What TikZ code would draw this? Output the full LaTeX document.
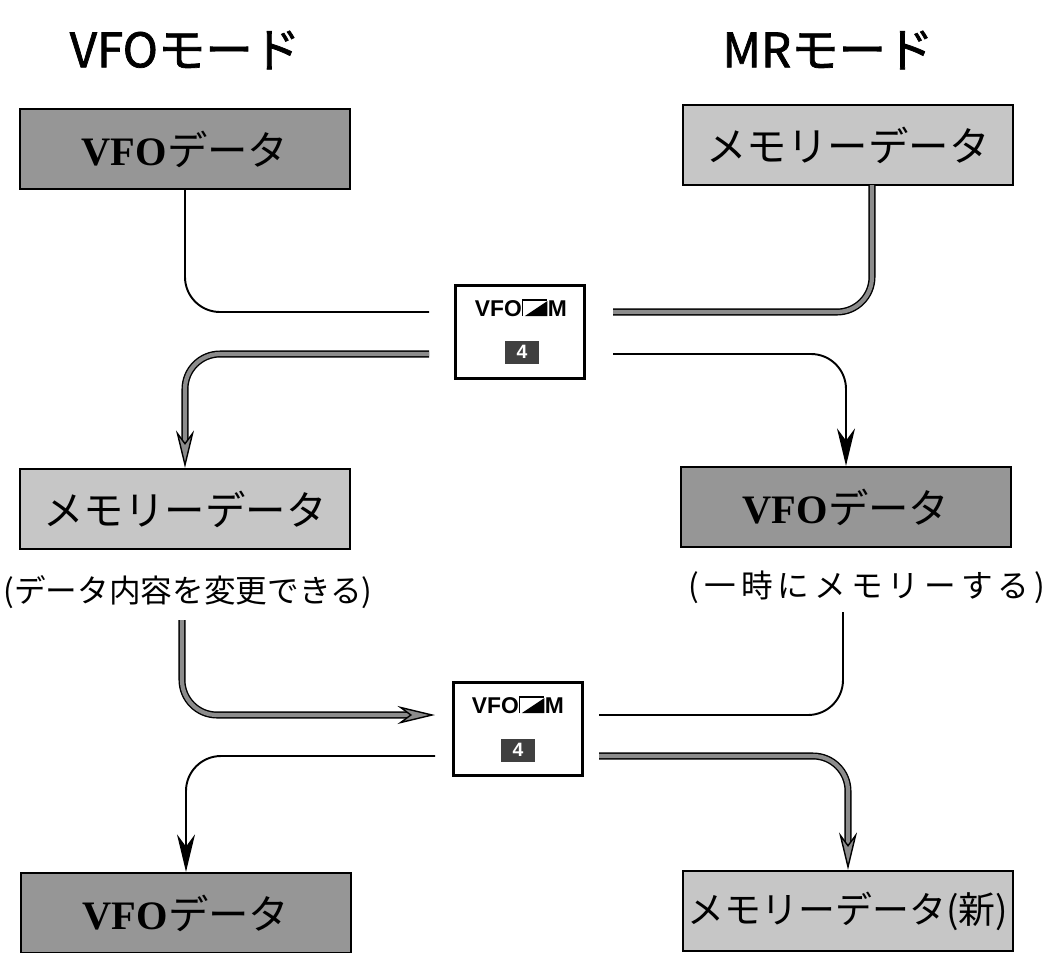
\documentclass[tikz,border=0pt]{standalone}
\usepackage{fontspec}
\setmainfont{Liberation Serif}
\newfontfamily\jp{Noto Sans CJK JP}
\newfontfamily\jptitle[FakeBold=1.5]{Noto Sans CJK JP}
\newfontfamily\jpwide[LetterSpace=16]{Noto Sans CJK JP}
\newfontfamily\keyfont{Liberation Sans}
\usepackage{tikz}
\usetikzlibrary{calc,positioning,arrows.meta}
\usepackage{xcolor}
\definecolor{vfogray}{RGB}{150,150,150}
\definecolor{memgray}{RGB}{198,198,198}
\definecolor{linegray}{RGB}{140,140,140}

% VFO/M key symbol
\newcommand{\vmglyph}{\tikz[baseline=0pt]{%
  \fill (0.5mm,0) -- (5mm,0) -- (5mm,3mm) -- cycle;
  \draw[line width=0.6pt] (0,0) -- (0,3.2mm) -- (5mm,3.2mm);}}

\begin{document}
\begin{tikzpicture}[x=0.2mm, y=-0.2mm, >=Stealth,
    modetitle/.style={font=\jptitle\fontsize{27}{30}\selectfont, inner sep=0pt},
    vfobox/.style={draw, line width=1.3pt, fill=vfogray, minimum width=66mm, minimum height=16mm, inner sep=0pt, font=\fontsize{23}{26}\selectfont},
    membox/.style={vfobox, fill=memgray},
    cnote/.style={font=\jp\fontsize{18}{20}\selectfont, inner sep=0pt},
    keybox/.style={draw, line width=1.2pt, minimum width=25.8mm, minimum height=18.6mm, inner sep=0pt},
    keytext/.style={font=\keyfont\bfseries\fontsize{13}{14}\selectfont, inner sep=0pt},
    keynum/.style={fill=black!75, text=white, font=\keyfont\bfseries\fontsize{11}{12}\selectfont, minimum width=6.8mm, minimum height=4.6mm, inner sep=0pt},
    thinline/.style={line width=1.1pt, rounded corners=7mm},
    thickline/.style={line width=0.8pt, double=linegray, double distance=2.4pt, rounded corners=7mm},
    blackhead/.style={-{Stealth[length=7.5mm, width=3.6mm]}},
    grayhead/.style={-{Stealth[length=7.5mm, width=3.6mm, fill=linegray]}}]
  \useasboundingbox (0,0) rectangle (1059,952);
  % Mode titles
  \node[modetitle] (t1) at (185,50) {VFOモード};
  \node[modetitle] (t2) at (828,50) {MRモード};
  % Data boxes
  \node[vfobox] (b1) at (185,149) {\textbf{VFO}{\jp データ}};
  \node[membox] (b2) at (848,145) {\jp メモリーデータ};
  \node[membox] (b3) at (185,509) {\jp メモリーデータ};
  \node[vfobox] (b4) at (846,507) {\textbf{VFO}{\jp データ}};
  \node[cnote] (n3) at (188,592) {(データ内容を変更できる)};
  \node[cnote, font=\jpwide\fontsize{18}{20}\selectfont] (n4) at (867,587) {(一時にメモリーする)};
  \node[vfobox] (b5) at (186,913) {\textbf{VFO}{\jp データ}};
  \node[membox, font=\jp\fontsize{21}{23}\selectfont] (b6) at (848,911) {メモリーデータ(新)};
  % VFO/M keys
  \node[keybox] (k1) at (520,332) {};
  \node[keytext] (k1t) at (521,308) {VFO\vmglyph M};
  \node[keynum] (k1n) at (522,352) {4};
  \node[keybox] (k2) at (518,729) {};
  \node[keytext] (k2t) at (518,705) {VFO\vmglyph M};
  \node[keynum] (k2n) at (518,750) {4};
  % Line ends beside the keys
  \coordinate (k1wa) at (429,312); \coordinate (k1wb) at (429,354);
  \coordinate (k1ea) at (613,312); \coordinate (k1eb) at (613,354);
  \coordinate (k2wa) at (435,715); \coordinate (k2wb) at (435,756);
  \coordinate (k2ea) at (599,715); \coordinate (k2eb) at (599,756);
  \coordinate (b2out) at (872,185);
  \coordinate (n3out) at (182,620);
  \coordinate (n4out) at (843,612);
  % Connectors
  \draw[thinline] (b1.south) |- (k1wa);
  \draw[thickline] (b2out) |- (k1ea);
  \draw[thickline, grayhead] (k1wb) -| (b3.north);
  \draw[thinline, blackhead] (k1eb) -| (b4.north);
  \draw[thickline, grayhead] (n3out) |- (k2wa);
  \draw[thinline] (n4out) |- (k2ea);
  \draw[thinline, blackhead] (k2wb) -| (b5.north);
  \draw[thickline, grayhead] (k2eb) -| (b6.north);
\end{tikzpicture}
\end{document}
